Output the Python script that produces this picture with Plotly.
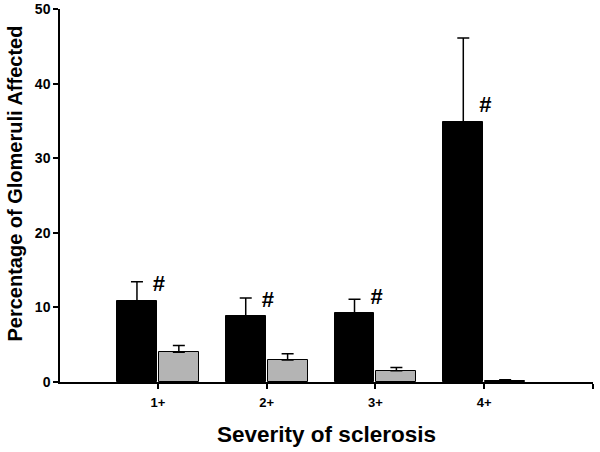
import plotly.graph_objects as go

categories = ["1+", "2+", "3+", "4+"]
black_vals = [10.9, 8.8, 9.2, 34.9]
black_err = [2.55, 2.45, 1.9, 11.2]
gray_vals = [4.0, 2.95, 1.5, 0.2]
gray_err = [0.9, 0.85, 0.45, 0.1]
sig_labels = ["#", "#", "#", "#"]
y_ticks = [0, 10, 20, 30, 40, 50]

xpos = list(range(len(categories)))
FONT = "Arial, Liberation Sans, sans-serif"

fig = go.Figure()
fig.add_trace(go.Bar(
    x=xpos, y=black_vals, width=0.367, offset=-0.376,
    marker=dict(color="black", line=dict(color="black", width=1)),
    error_y=dict(type="data", array=black_err, arrayminus=[0]*4, symmetric=False,
                 color="black", thickness=1.5, width=6),
    showlegend=False,
))
fig.add_trace(go.Bar(
    x=xpos, y=gray_vals, width=0.367, offset=0.009,
    marker=dict(color="#b4b4b4", line=dict(color="black", width=1)),
    error_y=dict(type="data", array=gray_err, arrayminus=[0]*4, symmetric=False,
                 color="black", thickness=1.5, width=6),
    showlegend=False,
))
fig.add_trace(go.Scatter(
    x=[p + 0.01 for p in xpos], y=[v + 2.0 for v in black_vals], text=sig_labels,
    mode="text", textposition="middle center",
    textfont=dict(family=FONT, size=22, color="black", weight="bold"),
    showlegend=False, cliponaxis=False,
))

fig.update_layout(
    width=600, height=452,
    margin=dict(l=60, r=7, t=9, b=70),
    paper_bgcolor="white", plot_bgcolor="white",
    font=dict(family=FONT, color="black"),
    bargap=0,
    annotations=[dict(
        text="Percentage of Glomeruli Affected", textangle=-90,
        xref="paper", yref="paper", x=0, y=0.532, xanchor="center", yanchor="middle",
        xshift=-45, showarrow=False,
        font=dict(family=FONT, size=20, color="black", weight="bold"),
    )],
)
fig.update_xaxes(
    range=[-0.9, 4.0], tickvals=xpos + [4], ticktext=categories + [""],
    showline=True, linecolor="black", linewidth=1.5,
    ticks="outside", ticklen=5, tickwidth=1.5, tickcolor="black",
    showgrid=False, zeroline=False, automargin=False, ticklabelstandoff=3,
    tickfont=dict(family=FONT, size=13, color="black", weight="bold"),
    title=dict(text="Severity of sclerosis", standoff=17,
               font=dict(family=FONT, size=22.5, color="black", weight="bold")),
)
fig.update_yaxes(
    range=[0, 50], tickvals=y_ticks,
    showline=True, linecolor="black", linewidth=1.5,
    ticks="outside", ticklen=5, tickwidth=1.5, tickcolor="black",
    showgrid=False, zeroline=False, automargin=False,
    tickfont=dict(family=FONT, size=14, color="black", weight="bold"),
)

fig.write_html("out.html", config={"displayModeBar": False},
               post_script="document.body.style.margin='0px';")
